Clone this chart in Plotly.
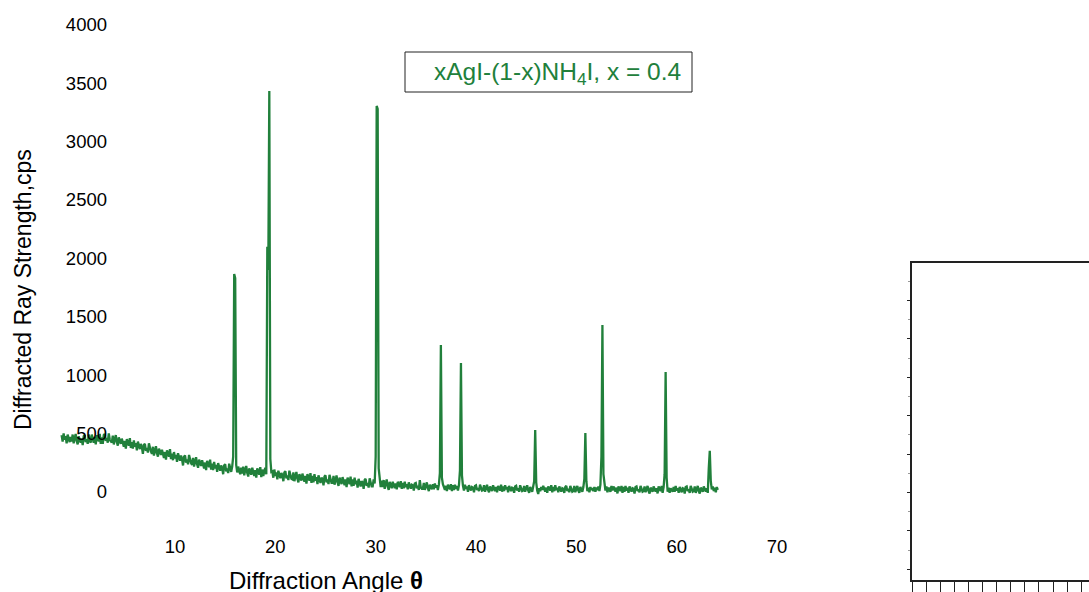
import plotly.graph_objects as go

# ---------------- data ----------------
angle_start = -1.3   # first sample (axis units)
angle_step = 0.1     # sampling step

intensity = [
    485, 430, 500, 445, 475, 415, 490, 450, 425, 470,
    430, 490, 415, 460, 495, 435, 405, 475, 450, 420,
    455, 400, 475, 485, 425, 450, 410, 490, 435, 420,
    490, 445, 420, 470, 405, 485, 460, 430, 495, 410,
    465, 410, 485, 495, 435, 460, 420, 500, 445, 430,
    420, 480, 405, 450, 485, 425, 395, 465, 440, 410,
    455, 410, 385, 435, 370, 450, 425, 395, 460, 375,
    425, 370, 440, 385, 415, 355, 430, 390, 365, 410,
    380, 325, 400, 410, 350, 375, 335, 415, 360, 345,
    325, 385, 310, 355, 390, 330, 300, 370, 345, 315,
    360, 315, 290, 340, 275, 355, 330, 300, 365, 280,
    325, 270, 340, 285, 315, 255, 330, 290, 265, 310,
    280, 225, 300, 310, 250, 275, 235, 315, 260, 245,
    230, 290, 215, 260, 295, 235, 205, 275, 250, 220,
    270, 225, 200, 250, 185, 265, 240, 210, 275, 190,
    240, 185, 255, 200, 230, 170, 245, 205, 180, 225,
    205, 150, 225, 235, 175, 200, 160, 240, 185, 170,
    215, 300, 1866, 1830, 230, 165, 215, 180, 150, 205,
    155, 215, 140, 185, 220, 160, 130, 200, 175, 145,
    205, 160, 135, 185, 120, 200, 175, 145, 210, 125,
    190, 135, 175, 205, 150, 2100, 1900, 3435, 280, 170,
    175, 120, 190, 135, 165, 105, 180, 140, 115, 160,
    145, 90, 165, 175, 115, 140, 100, 180, 125, 110,
    105, 165, 90, 135, 170, 110, 80, 150, 125, 95,
    155, 110, 85, 135, 70, 150, 125, 95, 160, 75,
    135, 80, 150, 95, 125, 65, 140, 100, 75, 120,
    110, 55, 130, 140, 80, 105, 65, 145, 90, 75,
    75, 135, 60, 105, 140, 80, 50, 120, 95, 65,
    125, 80, 55, 105, 40, 120, 95, 65, 130, 45,
    105, 50, 120, 65, 95, 35, 110, 70, 45, 90,
    80, 25, 100, 110, 50, 75, 35, 115, 60, 45,
    45, 105, 70, 300, 3306, 3280, 200, 85, 40, 95,
    40, 100, 25, 70, 105, 45, 15, 85, 60, 30,
    85, 50, 30, 70, 20, 85, 65, 40, 90, 25,
    75, 30, 85, 40, 65, 20, 80, 45, 25, 60,
    55, 10, 70, 75, 30, 50, 15, 100, 35, 25,
    25, 75, 15, 50, 80, 30, 5, 60, 40, 20,
    65, 20, 70, 35, 55, 15, 60, 160, 1257, 120,
    65, 30, 15, 50, 5, 60, 40, 20, 65, 5,
    55, 15, 60, 25, 50, 10, 55, 180, 1103, 140,
    50, 10, 60, 25, 45, 0, 55, 25, 10, 40,
    35, -5, 50, 55, 15, 30, 5, 60, 20, 10,
    15, 55, 0, 35, 60, 15, -5, 45, 25, 5,
    55, 20, 5, 40, -5, 50, 35, 10, 60, 0,
    45, 5, 55, 20, 40, -5, 50, 20, 5, 35,
    30, -10, 45, 50, 10, 30, 0, 55, 15, 5,
    10, 50, 0, 30, 55, 10, -10, 40, 25, 0,
    45, 90, 529, 80, 10, -20, 30, 5, 40, 15,
    50, 20, 0, 35, -10, 45, 30, 10, 55, -5,
    40, 5, 55, 15, 35, -5, 45, 15, 0, 30,
    25, -10, 40, 50, 5, 25, -5, 50, 15, 0,
    5, 50, -5, 25, 50, 10, -10, 40, 20, 0,
    40, 110, 503, 90, 5, 35, -5, 40, 15, 30,
    5, 40, 0, 35, 15, 45, 5, 60, 300, 1429,
    150, 40, 10, 45, -5, 35, 20, 0, 50, 10,
    45, 15, 0, 35, -15, 45, 25, 5, 50, -10,
    40, 0, 50, 10, 35, -10, 45, 15, 0, 30,
    25, -15, 40, 45, 5, 20, -5, 50, 10, 0,
    5, 45, -5, 25, 50, 5, -15, 35, 20, 0,
    45, 15, 0, 30, -15, 45, 25, 5, 50, -10,
    40, 150, 1026, 120, 0, 35, -10, 30, 15, 0,
    40, 0, 50, 10, 30, -10, 40, 15, -5, 30,
    25, -15, 40, 45, 5, 20, -10, 50, 10, 0,
    5, 45, -10, 25, 50, 5, -15, 35, 15, 0,
    45, 15, 0, 30, -10, 200, 351, 90, 20, 45,
    5, 35, -5, 40, 15,
]

x_ticks = [10, 20, 30, 40, 50, 60, 70]
x_tick_labels = ["10", "20", "30", "40", "50", "60", "70"]
y_ticks = [0, 500, 1000, 1500, 2000, 2500, 3000, 3500, 4000]
y_tick_labels = ["0", "500", "1000", "1500", "2000", "2500", "3000", "3500", "4000"]

series_label = "xAgI-(1-x)NH<sub>4</sub>I, x = 0.4"
x_title = "Diffraction Angle <b>θ</b>"
y_title = "Diffracted Ray Strength,cps"

# ---------------- figure ----------------
W, H = 1089, 592
GREEN = "#21803b"
FONT = "Liberation Sans, Arial, sans-serif"

def px_x(p):               # page x pixel -> paper fraction
    return p / W

def px_y(p):               # page y pixel -> paper fraction
    return (H - p) / H

fig = go.Figure()
fig.add_trace(go.Scatter(
    y=intensity, x0=angle_start, dx=angle_step,
    mode="lines", line=dict(color=GREEN, width=2.3),
    showlegend=False, hoverinfo="skip",
))
# empty trace to carry the framed second panel
fig.add_trace(go.Scatter(x=[], y=[], xaxis="x2", yaxis="y2", showlegend=False,
                         hoverinfo="skip"))

# main axes (page px): 10 -> 175, 70 -> 777 ; 0 -> 491.7, 4000 -> 25
ppu_x = (777 - 175) / 60.0
plot_left, plot_right = 0, 880
x_lo = 10 - (175 - plot_left) / ppu_x
x_hi = 10 + (plot_right - 175) / ppu_x
ppu_y = (491.7 - 25) / 4000.0
plot_top, plot_bottom = 0, 533
y_hi = 4000 + (25 - plot_top) / ppu_y
y_lo = -(plot_bottom - 491.7) / ppu_y

fig.update_layout(
    width=W, height=H,
    margin=dict(l=0, r=0, t=0, b=0),
    paper_bgcolor="white", plot_bgcolor="rgba(0,0,0,0)",
    font=dict(family=FONT, color="black"),
    hovermode=False,
    xaxis=dict(
        domain=[px_x(plot_left), px_x(plot_right)], range=[x_lo, x_hi],
        tickmode="array", tickvals=x_ticks, ticktext=x_tick_labels,
        showgrid=False, zeroline=False, showline=False, ticks="",
        tickfont=dict(size=18.5, family=FONT, color="black"),
        anchor="y",
    ),
    yaxis=dict(
        domain=[px_y(plot_bottom), px_y(plot_top)], range=[y_lo, y_hi],
        tickmode="array", tickvals=y_ticks, ticktext=y_tick_labels,
        showgrid=False, zeroline=False, showline=False, ticks="",
        tickfont=dict(size=18.5, family=FONT, color="black"),
        anchor="free", position=px_x(107),
    ),
    xaxis2=dict(
        domain=[px_x(912), 1], range=[0, 12.55],
        tick0=0, dtick=1, ticks="outside", ticklen=10, tickwidth=1.3,
        tickcolor="#222", showticklabels=False,
        showline=True, linecolor="#222", linewidth=1.5, mirror=True,
        showgrid=False, zeroline=False, anchor="y2",
    ),
    yaxis2=dict(
        domain=[px_y(580), px_y(263)], range=[-0.28, 7.98],
        tick0=0, dtick=1, ticks="outside", ticklen=3, tickwidth=1.3,
        tickcolor="#222", showticklabels=False,
        minor=dict(dtick=0.5, ticks="outside", ticklen=2, tickcolor="#999"),
        showline=True, linecolor="#222", linewidth=1.5, mirror=False,
        showgrid=False, zeroline=False, anchor="x2",
    ),
    showlegend=False,
)

# series label box
fig.add_shape(type="rect", xref="paper", yref="paper",
              x0=px_x(405), x1=px_x(692), y0=px_y(92), y1=px_y(52),
              line=dict(color="#222", width=1), fillcolor="rgba(0,0,0,0)")
fig.add_annotation(text=series_label, xref="paper", yref="paper",
                   x=px_x(432), y=px_y(73), xanchor="left", yanchor="middle",
                   showarrow=False, font=dict(size=24.5, color=GREEN, family=FONT))

# axis titles
fig.add_annotation(text=x_title, xref="paper", yref="paper",
                   x=px_x(326), y=px_y(580), xanchor="center", yanchor="middle",
                   showarrow=False, font=dict(size=24, color="black", family=FONT))
fig.add_annotation(text=y_title, xref="paper", yref="paper",
                   x=px_x(23), y=px_y(290), xanchor="center", yanchor="middle",
                   textangle=-90, showarrow=False,
                   font=dict(size=23, color="black", family=FONT))

fig.write_html(
    "out.html",
    config={"displayModeBar": False},
    post_script="document.body.style.margin='0px';"
                "document.body.style.overflow='hidden';",
)
